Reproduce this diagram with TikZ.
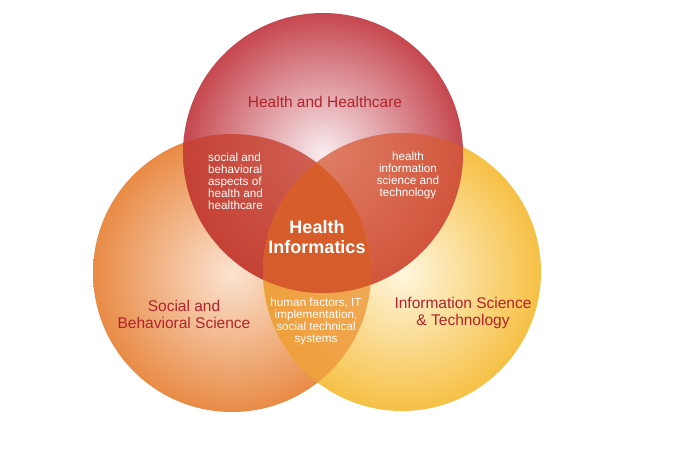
\documentclass[tikz,border=0pt]{standalone}
\usepackage{fontspec}
\setmainfont{Liberation Sans}

\definecolor{hhin}{HTML}{F8ECEF}
\definecolor{hhout}{HTML}{C6474F}
\definecolor{sbin}{HTML}{FBE3D0}
\definecolor{sbout}{HTML}{E98B46}
\definecolor{isin}{HTML}{FFF7DF}
\definecolor{isout}{HTML}{F6C045}
\definecolor{hhsbfill}{HTML}{C6402F}
\definecolor{hhisfill}{HTML}{D65A36}
\definecolor{sbisfill}{HTML}{EE983C}
\definecolor{hifill}{HTML}{D6582A}
\definecolor{labelred}{HTML}{B1232B}

\begin{document}
\begin{tikzpicture}[x=1pt, y=-1pt,
  biglabel/.style={text=labelred, font=\fontsize{15.5}{17}\selectfont, align=center, inner sep=0},
  smalllabel/.style={text=white, font=\fontsize{11.7}{12}\selectfont, inner sep=0},
  overlap/.style={fill opacity=0.8}]
\useasboundingbox (0,0) rectangle (700,461);

\coordinate (hh) at (323,153);
\coordinate (sb) at (232,273);
\coordinate (is) at (402,272);

% circles
\shade[inner color=sbin, outer color=sbout] (sb) circle[radius=139pt];
\shade[inner color=isin, outer color=isout] (is) circle[radius=139pt];
\shade[inner color=hhin, outer color=hhout] (hh) circle[radius=140pt];

% overlaps
\begin{scope}
\clip (hh) circle[radius=140pt];
\fill[hhsbfill, overlap] (sb) circle[radius=139pt];
\fill[hhisfill, fill opacity=0.75] (is) circle[radius=139pt];
\end{scope}
\begin{scope}
\clip (sb) circle[radius=139pt];
\fill[sbisfill, overlap] (is) circle[radius=139pt];
\end{scope}
\begin{scope}
\clip (sb) circle[radius=139pt];
\clip (is) circle[radius=139pt];
\fill[hifill, fill opacity=0.9] (hh) circle[radius=140pt];
\end{scope}

% labels
\node[biglabel] (hhlabel) at (325,102) {Health and Healthcare};
\node[biglabel] (sblabel) at (184,314) {Social and\\Behavioral Science};
\node[biglabel] (islabel) at (463,313) {Information Science\\\& Technology};

\node[smalllabel, align=left, anchor=west] (hhsblabel) at (208,181) {social and\\behavioral\\aspects of\\health and\\healthcare};
\node[smalllabel, align=center] (hhislabel) at (408,175) {health\\information\\science and\\technology};
\node[smalllabel, align=center] (sbislabel) at (316,321) {human factors, IT\\implementation,\\social technical\\systems};

\node[text=white, font=\bfseries\fontsize{18}{19.5}\selectfont, align=center, inner sep=0] (hilabel) at (317,237) {Health\\Informatics};

\end{tikzpicture}
\end{document}
